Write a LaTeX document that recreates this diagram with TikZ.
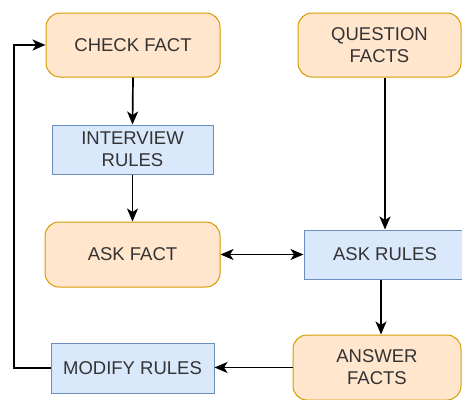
\documentclass[tikz,border=0pt]{standalone}
\usepackage{fontspec}
\setmainfont{Liberation Sans}
\usetikzlibrary{arrows.meta}
\definecolor{ofill}{HTML}{FFE6CC}
\definecolor{oline}{HTML}{D79B00}
\definecolor{bfill}{HTML}{DAE8FC}
\definecolor{bline}{HTML}{6C8EBF}
\definecolor{txt}{HTML}{333333}
\tikzset{
  base/.style={draw, line width=1pt, align=center, text=txt, inner sep=0pt,
    font=\fontsize{18.5}{22}\selectfont},
  fact/.style={base, fill=ofill, draw=oline, rounded corners=14pt},
  rule/.style={base, fill=bfill, draw=bline},
  tip/.style={},
  arr/.style={line width=1.7pt, -{Stealth[length=13pt,width=11pt,inset=3.5pt]}},
  darr/.style={line width=1.7pt, {Stealth[length=13pt,width=11pt,inset=3.5pt]}-{Stealth[length=13pt,width=11pt,inset=3.5pt]}}
}
\begin{document}
\begin{tikzpicture}[x=1pt,y=-1pt]
\useasboundingbox (0,0) rectangle (462,399);
\begin{scope}
\clip (0,0) rectangle (462,399);
\node[fact, minimum width=174pt, minimum height=64pt] (cf) at (133,45) {CHECK FACT};
\node[rule, minimum width=161pt, minimum height=49pt] (ir) at (132.5,149.5) {INTERVIEW\\RULES};
\node[fact, minimum width=175pt, minimum height=65pt] (af) at (132.5,254.5) {ASK FACT};
\node[rule, minimum width=163pt, minimum height=50pt] (mr) at (132.5,368) {MODIFY RULES};
\node[fact, minimum width=163pt, minimum height=64pt] (qf) at (379.5,45) {QUESTION\\FACTS};
\node[rule, minimum width=162pt, minimum height=49pt] (ar) at (385,254.5) {ASK RULES};
\node[fact, minimum width=168pt, minimum height=65pt] (an) at (377,367.5) {ANSWER\\FACTS};
\coordinate (lb) at (14,368);
\coordinate (lt) at (14,45);

\draw[arr] (cf.south) -- (ir.north);
\draw[arr] (ir.south) -- (af.north);
\draw[darr] (af.east) -- (ar.west);
\draw[arr] ([xshift=5.5pt]qf.south) -- (ar.north);
\draw[arr] ([xshift=-4pt]ar.south) -- ([xshift=4pt]an.north);
\draw[arr] (an.west) -- (an.west -| mr.east);
\draw[arr] (mr.west) -- (lb) -- (lt) -- (cf.west);
\end{scope}
\end{tikzpicture}
\end{document}
